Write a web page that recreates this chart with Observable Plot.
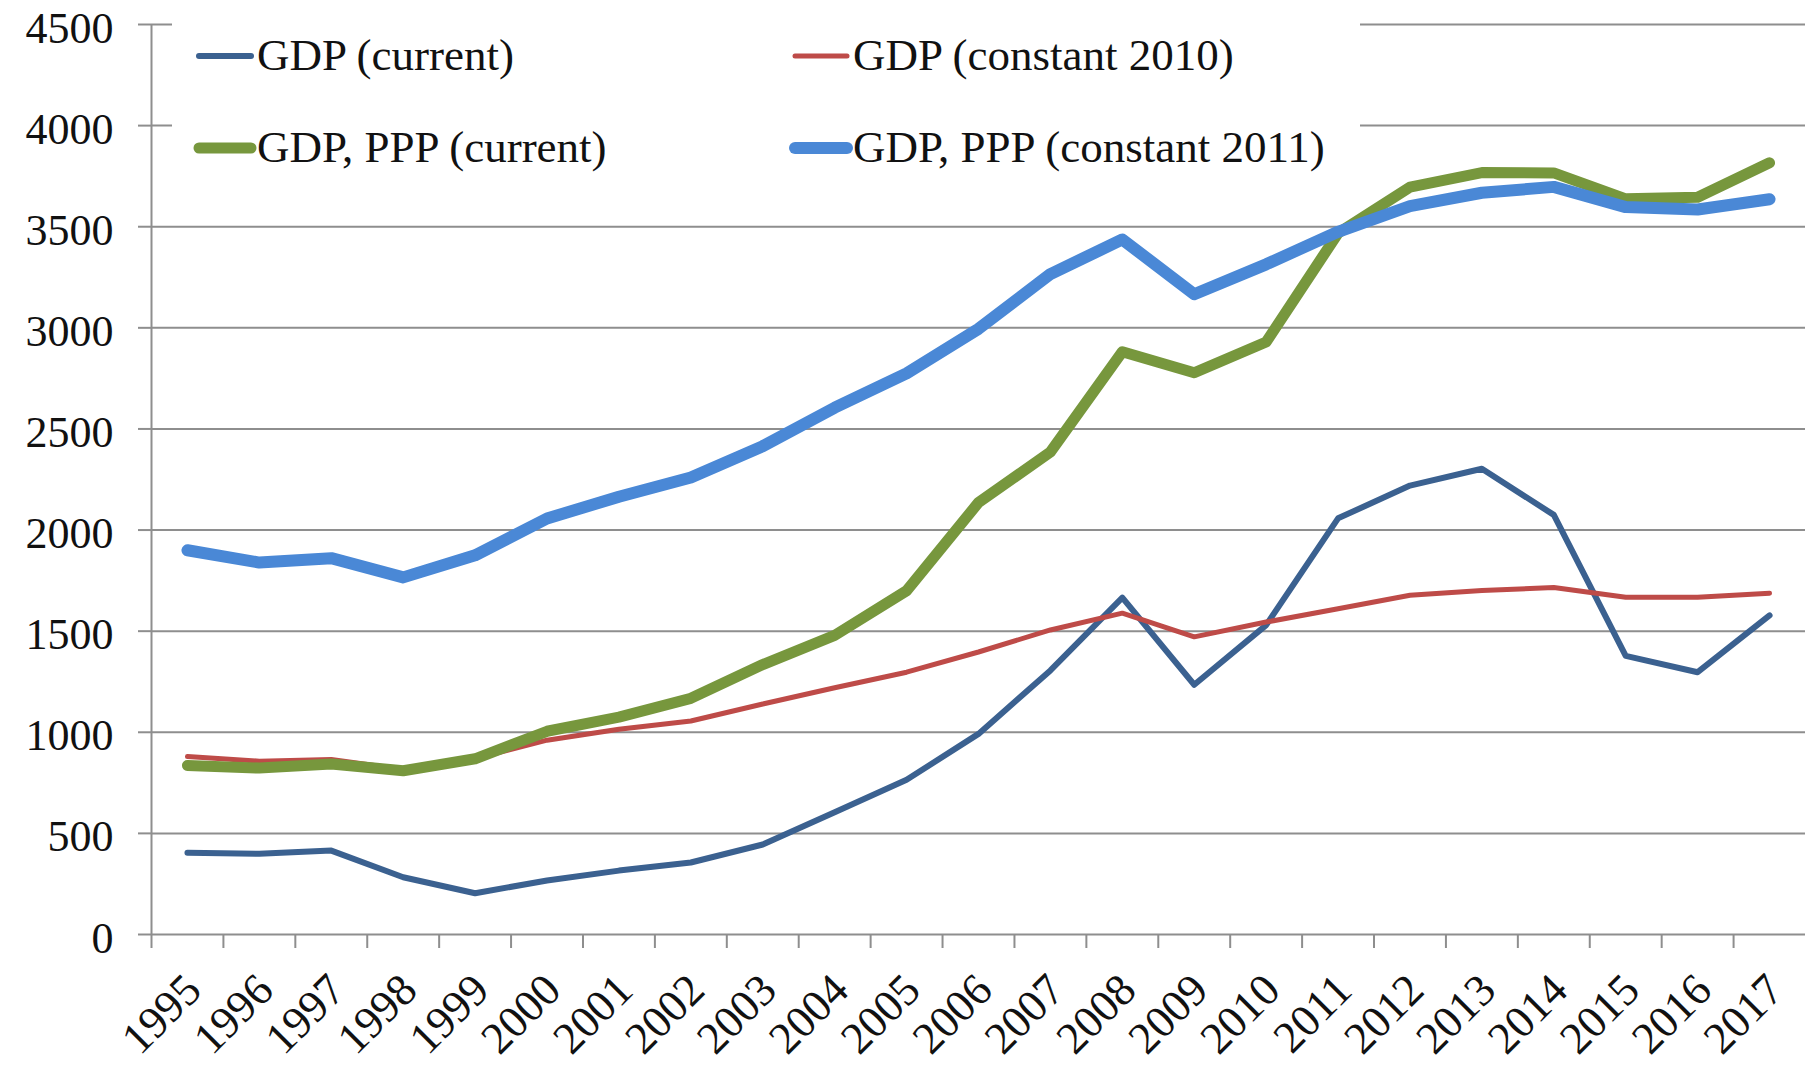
<!DOCTYPE html>
<html>
<head>
<meta charset="utf-8">
<script src="https://cdn.jsdelivr.net/npm/d3@7"></script>
<script src="https://cdn.jsdelivr.net/npm/@observablehq/plot@0.6"></script>
<style>
  body { margin: 0; background: #fff; }
  #wrap { position: relative; width: 1812px; height: 1068px; overflow: hidden; background: #fff; }
  #chart svg text { font-family: "Liberation Serif", "Times New Roman", serif; }
  #legend { position: absolute; left: 172px; top: 0; width: 1188px; height: 188px; background: #fff;
            font-family: "Liberation Serif", "Times New Roman", serif; font-size: 45px; color: #111; }
  .lt { position: absolute; line-height: 45px; white-space: nowrap; }
  .ls { position: absolute; }
</style>
</head>
<body>
<div id="wrap"><div id="chart"></div><div id="legend"></div></div>
<script>
const years = [1995, 1996, 1997, 1998, 1999, 2000, 2001, 2002, 2003, 2004, 2005, 2006,
               2007, 2008, 2009, 2010, 2011, 2012, 2013, 2014, 2015, 2016, 2017];
const gdpCurrent    = [404, 399, 415, 283, 204, 267, 316, 356, 445, 605, 765, 992,
                       1306, 1666, 1235, 1530, 2058, 2220, 2303, 2075, 1378, 1297, 1578];
const gdpConst2010  = [880, 857, 866, 816, 870, 961, 1015, 1056, 1140, 1220, 1297, 1397,
                       1506, 1589, 1472, 1545, 1611, 1678, 1701, 1716, 1668, 1668, 1688];
const pppCurrent    = [836, 823, 843, 810, 869, 1005, 1075, 1168, 1335, 1479, 1700, 2136,
                       2386, 2882, 2778, 2930, 3468, 3696, 3768, 3766, 3638, 3646, 3816];
const pppConst2011  = [1900, 1839, 1861, 1766, 1875, 2057, 2165, 2260, 2415, 2605, 2775, 2995,
                       3266, 3437, 3166, 3314, 3475, 3602, 3668, 3697, 3597, 3585, 3636];
const seriesNames = ["GDP (current)", "GDP (constant 2010)", "GDP, PPP (current)", "GDP, PPP (constant 2011)"];
const seriesValues = [gdpCurrent, gdpConst2010, pppCurrent, pppConst2011];
const yTicks = [0, 500, 1000, 1500, 2000, 2500, 3000, 3500, 4000, 4500];

const colors = ["#3B6190", "#BE4B48", "#77973D", "#4A88D6"];
const widths = [6, 5, 11, 12];
const gridColor = "#8E8E8E";
const font = "Liberation Serif";

const rows = seriesNames.flatMap((name, s) =>
  years.map((yr, i) => ({year: yr, value: seriesValues[s][i], series: name})));
const edges = years.map(y => y - 0.5);

const lineMarks = seriesNames.map((name, s) =>
  Plot.line(rows.filter(d => d.series === name), {
    x: "year", y: "value", stroke: colors[s], strokeWidth: widths[s],
    strokeLinecap: "round", strokeLinejoin: "round"
  }));

const chart = Plot.plot({
  width: 1812,
  height: 1068,
  marginLeft: 151,
  marginRight: 7,
  marginTop: 24,
  marginBottom: 134,
  style: {background: "white", fontFamily: font, color: "#111"},
  x: {domain: [years[0] - 0.5, years[years.length - 1] + 0.5]},
  y: {domain: [0, 4500]},
  marks: [
    Plot.gridY(yTicks, {stroke: gridColor, strokeOpacity: 1, strokeWidth: 2}),
    Plot.axisY(yTicks, {tickSize: 13, tickFormat: () => "", stroke: gridColor, strokeWidth: 2, label: null}),
    Plot.text(yTicks, {y: d => d, text: d => String(d), frameAnchor: "left", dx: -38, dy: 4,
                       textAnchor: "end", fontSize: 44, fontFamily: font, fill: "#111"}),
    Plot.axisX(edges, {tickSize: 14, tickFormat: () => "", stroke: gridColor, strokeWidth: 2, label: null}),
    Plot.ruleX([years[0] - 0.5], {stroke: gridColor, strokeWidth: 2}),
    ...lineMarks,
    Plot.text(years, {x: d => d, text: d => String(d), frameAnchor: "bottom", dx: 6, dy: 48, rotate: -45,
                      textAnchor: "end", lineAnchor: "middle", fontSize: 45, fontFamily: font, fill: "#111"})
  ]
});
document.getElementById("chart").appendChild(chart);

// Legend (two columns, two rows)
const legend = document.getElementById("legend");
const pos = [[27, 33], [623, 33], [27, 125], [623, 125]];
seriesNames.forEach((name, s) => {
  const [lx, ty] = pos[s];
  const sw = document.createElementNS("http://www.w3.org/2000/svg", "svg");
  sw.setAttribute("class", "ls");
  sw.setAttribute("width", 70); sw.setAttribute("height", 30);
  sw.style.left = (lx - 8) + "px";
  sw.style.top = (ty + 23 - 15) + "px";
  const ln = document.createElementNS("http://www.w3.org/2000/svg", "line");
  ln.setAttribute("x1", 8); ln.setAttribute("x2", 60);
  ln.setAttribute("y1", 15); ln.setAttribute("y2", 15);
  ln.setAttribute("stroke", colors[s]); ln.setAttribute("stroke-width", widths[s]);
  ln.setAttribute("stroke-linecap", "round");
  sw.appendChild(ln);
  legend.appendChild(sw);
  const t = document.createElement("div");
  t.className = "lt";
  t.textContent = name;
  t.style.left = (lx + 58) + "px";
  t.style.top = ty + "px";
  legend.appendChild(t);
});
</script>
</body>
</html>
